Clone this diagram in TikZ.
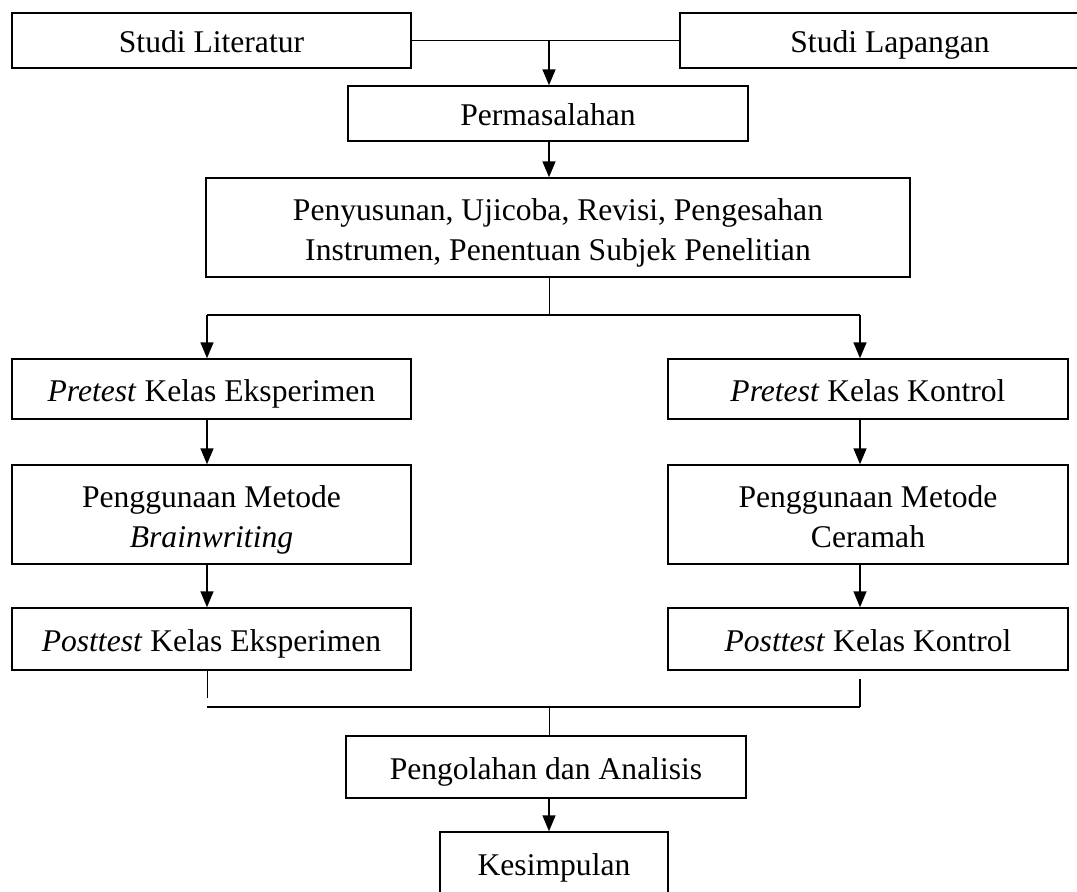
\documentclass[tikz,border=0pt]{standalone}
\usepackage{fontspec}
\setmainfont{Liberation Serif}
\usetikzlibrary{arrows.meta, calc}

\begin{document}
\begin{tikzpicture}[x=0.5pt, y=-0.5pt,
  box/.style={draw, line width=0.75pt, inner sep=0pt, align=center,
    font=\fontsize{15.8}{20}\selectfont},
  one/.style={box, text height=15.5pt, text depth=3.5pt},
  arr/.style={line width=0.8pt, -{Triangle[width=6.5pt,length=8pt]}},
  link/.style={line width=0.8pt},
  thinlink/.style={line width=0.45pt}]
\useasboundingbox (0,0) rectangle (1077,891);
% Columns the connectors run along
\coordinate (colL) at (207,0);
\coordinate (mid) at (549,0);
\coordinate (colR) at (860,0);
% Branch and join points
\coordinate (split) at (549,315);
\coordinate (join) at (549,707);
% Top row of studies
\node[one, minimum width=199.5pt, minimum height=27.5pt] (lit) at (211.5,40.5) {Studi Literatur};
\node[one, minimum width=210pt, minimum height=27.5pt] (lap) at (890,40.5) {Studi Lapangan};
% Problem and preparation
\node[one, minimum width=200pt, minimum height=27.5pt] (masalah) at (548,113.5) {Permasalahan};
\node[box, minimum width=352pt, minimum height=49.5pt] (susun) at (558,227.5)
  {\rule{0pt}{16.5pt}Penyusunan, Ujicoba, Revisi, Pengesahan\\Instrumen, Penentuan Subjek Penelitian\rule[-4pt]{0pt}{0pt}};
% Experiment column
\node[one, minimum width=199.5pt, minimum height=30pt] (preE) at (211.5,389) {\textit{Pretest} Kelas Eksperimen};
\node[box, minimum width=199.5pt, minimum height=49.5pt] (metE) at (211.5,514.5)
  {\rule{0pt}{16.5pt}Penggunaan Metode\\\textit{Brainwriting}\rule[-4pt]{0pt}{0pt}};
\node[one, minimum width=199.5pt, minimum height=31pt] (postE) at (211.5,639) {\textit{Posttest} Kelas Eksperimen};
% Control column
\node[one, minimum width=200pt, minimum height=30pt] (preK) at (868,389) {\textit{Pretest} Kelas Kontrol};
\node[box, minimum width=200pt, minimum height=49.5pt] (metK) at (868,514.5)
  {\rule{0pt}{16.5pt}Penggunaan Metode\\Ceramah\rule[-4pt]{0pt}{0pt}};
\node[one, minimum width=200pt, minimum height=31pt] (postK) at (868,639) {\textit{Posttest} Kelas Kontrol};
% Analysis and conclusion
\node[one, minimum width=200pt, minimum height=31pt] (olah) at (546,767) {Pengolahan dan Analisis};
\node[one, minimum width=114pt, minimum height=31pt] (simpul) at (554,863) {Kesimpulan};
% Studies into the problem
\draw[link] (lit.east) -- (lap.west);
\draw[arr] (lit.east -| mid) -- (masalah.north -| mid);
\draw[arr] (masalah.south -| mid) -- (susun.north -| mid);
% Split into the two classes
\draw[thinlink] (susun.south -| mid) -- (split);
\draw[link] (split -| colL) -- (split -| colR);
\draw[arr] (split -| colL) -- (preE.north -| colL);
\draw[arr] (split -| colR) -- (preK.north -| colR);
% Down each column
\draw[arr] (preE.south -| colL) -- (metE.north -| colL);
\draw[arr] (metE.south -| colL) -- (postE.north -| colL);
\draw[arr] (preK.south -| colR) -- (metK.north -| colR);
\draw[arr] (metK.south -| colR) -- (postK.north -| colR);
% Join the two classes again
\draw[thinlink] (postE.south -| colL) -- ($(join -| colL)+(0,-9)$);
\draw[link] ($(postK.south -| colR)+(0,8)$) -- (join -| colR);
\draw[link] (join -| colL) -- (join -| colR);
\draw[thinlink] (join) -- (olah.north -| mid);
\draw[arr] (olah.south -| mid) -- (simpul.north -| mid);
\end{tikzpicture}
\end{document}
